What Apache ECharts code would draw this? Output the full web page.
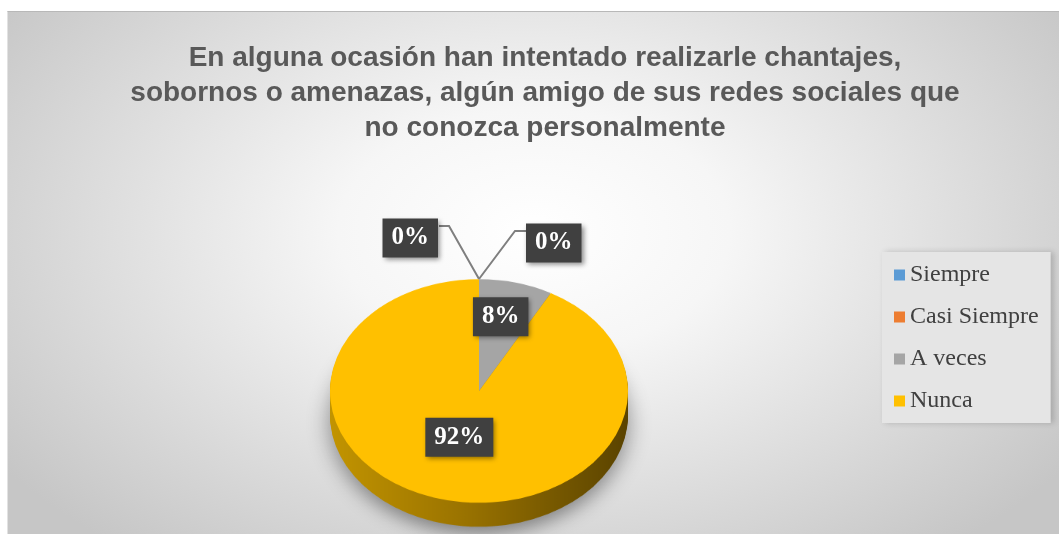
<!DOCTYPE html>
<html>
<head>
<meta charset="utf-8">
<script src="https://cdn.jsdelivr.net/npm/echarts@6/dist/echarts.min.js"></script>
<style>
  html, body { margin: 0; padding: 0; background: #ffffff; overflow: hidden; }
  #frame {
    position: absolute; left: 7px; top: 11px; width: 1052px; height: 523px;
    border-top: 1px solid #b8b8b8; border-left: 1px solid #e2e2e2;
    background: radial-gradient(ellipse 62% 78% at 50% 42%, #ffffff 0%, #f6f6f6 30%, #c6c6c6 100%);
  }
  #pie {
    position: absolute; left: 0; top: 0; width: 1059px; height: 720px;
    transform: scaleY(0.75); transform-origin: 0 0;
  }
  #main { position: absolute; left: 0; top: 0; width: 1059px; height: 534px; }
</style>
</head>
<body>
<div id="frame"></div>
<div id="pie"></div>
<div id="main"></div>
<script>
// chart data
const categories = ['Siempre', 'Casi Siempre', 'A veces', 'Nunca'];
const values = [0, 0, 8, 92];
const colors = ['#5B9BD5', '#ED7D31', '#A5A5A5', '#FFC000'];
const wallColors = ['#3d6f9c', '#a9561f', '#6e6e6e', null];
const titleText = 'En alguna ocasión han intentado realizarle chantajes,\n' +
  'sobornos o amenazas, algún amigo de sus redes sociales que\n' +
  'no conozca personalmente';

const pieData = categories.map((name, i) => ({ name: name, value: values[i] }));

// --- pie body, drawn flat and squashed by css into an ellipse ---
const pieChart = echarts.init(document.getElementById('pie'), null, { renderer: 'canvas' });
const cx = 479, cy = 391 / 0.75, R = 149, depth = 32;

const nuncaWall = {
  type: 'linear', x: 0, y: 0, x2: 1, y2: 0,
  colorStops: [
    { offset: 0, color: '#c29400' },
    { offset: 0.45, color: '#9a7300' },
    { offset: 1, color: '#5a4300' }
  ]
};

const bodySeries = [];
for (let d = depth; d >= 0; d -= 2) {
  const top = d === 0;
  bodySeries.push({
    type: 'pie',
    silent: true,
    animation: false,
    center: [cx, cy + d],
    radius: R,
    startAngle: 90,
    clockwise: true,
    label: { show: false },
    labelLine: { show: false },
    data: pieData.map((p, i) => ({
      name: p.name,
      value: p.value,
      itemStyle: top
        ? { color: colors[i] }
        : Object.assign(
            { color: wallColors[i] || nuncaWall },
            d === depth ? { shadowBlur: 22, shadowColor: 'rgba(0,0,0,0.4)', shadowOffsetY: 10 } : {}
          )
    }))
  });
}

pieChart.setOption({
  backgroundColor: 'transparent',
  series: bodySeries
});

// --- title, legend, labels on top ---
const chart = echarts.init(document.getElementById('main'), null, { renderer: 'canvas' });

const boxLabel = {
  show: true,
  formatter: '{d}%',
  color: '#ffffff',
  opacity: 1,
  fontFamily: 'Liberation Serif',
  fontWeight: 'bold',
  fontSize: 25,
  backgroundColor: '#404040',
  padding: [8, 9, 6, 9],
  shadowColor: 'rgba(0,0,0,0.45)',
  shadowBlur: 5,
  shadowOffsetX: 2,
  shadowOffsetY: 2
};

chart.setOption({
  backgroundColor: 'transparent',
  color: colors,
  title: {
    text: titleText,
    left: 545,
    top: 41,
    textAlign: 'center',
    padding: 0,
    textStyle: {
      fontFamily: 'Liberation Sans',
      fontWeight: 'bold',
      fontSize: 28,
      lineHeight: 35,
      color: '#595959'
    }
  },
  legend: {
    orient: 'vertical',
    left: 882,
    top: 252,
    padding: [11, 12, 10, 12],
    itemGap: 18,
    itemWidth: 11,
    itemHeight: 11,
    icon: 'rect',
    backgroundColor: '#e5e5e5',
    shadowColor: 'rgba(0,0,0,0.18)',
    shadowBlur: 6,
    shadowOffsetX: 3,
    textStyle: { fontFamily: 'Liberation Serif', fontSize: 24, color: '#404040' },
    data: categories.map((name, i) => ({ name: name, itemStyle: { color: colors[i] } }))
  },
  series: [{
    type: 'pie',
    silent: true,
    animation: false,
    center: [cx, 391],
    radius: 112,
    startAngle: 90,
    clockwise: true,
    avoidLabelOverlap: false,
    itemStyle: { color: 'rgba(0,0,0,0)' },
    label: Object.assign({ position: 'inside' }, boxLabel),
    labelLine: { show: true, lineStyle: { color: '#7f7f7f', width: 2 } },
    data: pieData.map((p, i) => ({
      name: p.name,
      value: p.value,
      label: p.value === 0 ? { position: 'outside' } : { position: 'inside' },
      labelLine: { show: p.value === 0 }
    })),
    labelLayout: function (p) {
      const i = p.dataIndex;
      if (values[i] === 0) {
        const a = (p.labelLinePoints && p.labelLinePoints[0]) || [p.rect.x, p.rect.y];
        if (i === 0) {
          return {
            x: a[0] - 41, y: a[1] - 41, align: 'right', verticalAlign: 'middle',
            labelLinePoints: [a, [a[0] - 30, a[1] - 53], [a[0] - 40, a[1] - 53]]
          };
        }
        return {
          x: a[0] + 47, y: a[1] - 36, align: 'left', verticalAlign: 'middle',
          labelLinePoints: [a, [a[0] + 36, a[1] - 48], [a[0] + 47, a[1] - 48]]
        };
      }
      return i === 2 ? { dx: 7, dy: -17 } : { dx: -5, dy: -11 };
    }
  }]
});
</script>
</body>
</html>
